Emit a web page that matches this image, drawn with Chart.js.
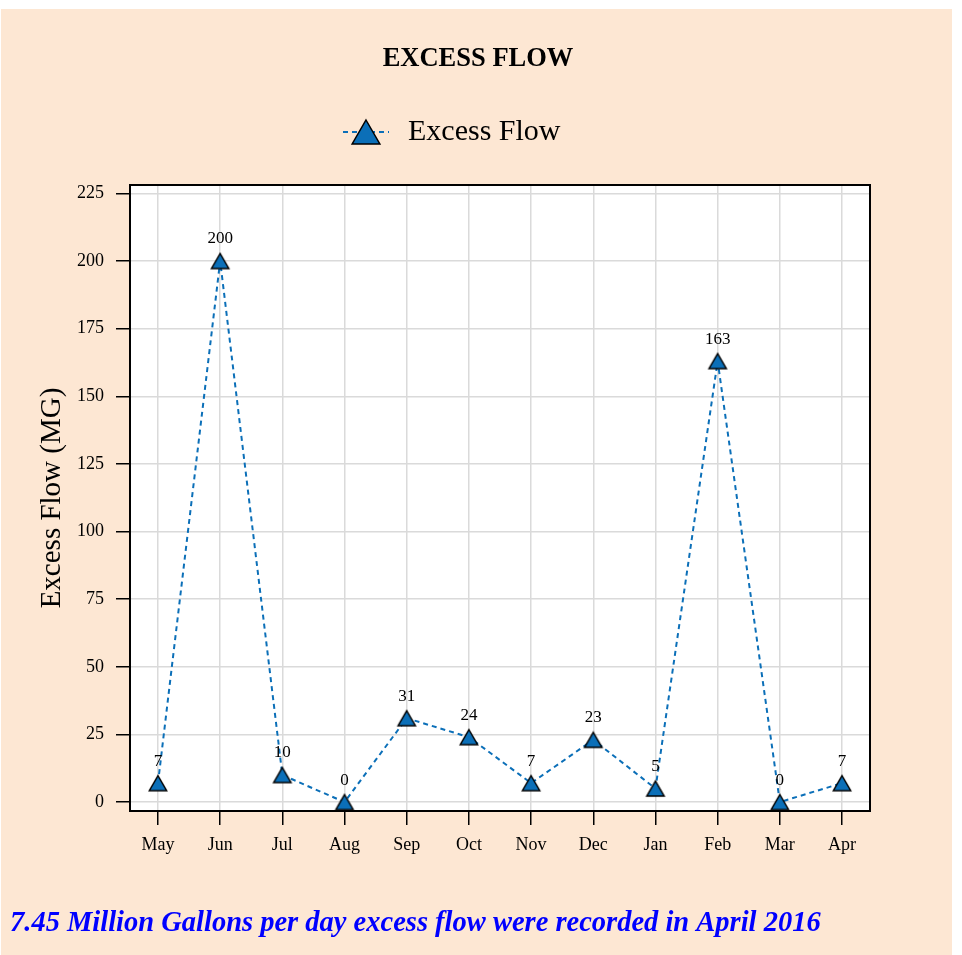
<!DOCTYPE html>
<html>
<head>
<meta charset="utf-8">
<script src="https://cdn.jsdelivr.net/npm/chart.js@4"></script>
<style>
  html, body { margin: 0; padding: 0; background: #ffffff; }
  #frame {
    position: absolute; left: 1px; top: 9px;
    width: 951px; height: 946px;
    background: #FDE7D3;
  }
  #frame canvas { display: block; }
</style>
</head>
<body>
<div id="frame"><canvas id="chart" width="951" height="946"></canvas></div>
<script>
// Monthly excess flow, May through April
const months = ['May', 'Jun', 'Jul', 'Aug', 'Sep', 'Oct', 'Nov', 'Dec', 'Jan', 'Feb', 'Mar', 'Apr'];
const excessFlow = [7, 200, 10, 0, 31, 24, 7, 23, 5, 163, 0, 7];
const yTickValues = [0, 25, 50, 75, 100, 125, 150, 175, 200, 225];

const titleText = 'EXCESS FLOW';
const seriesName = 'Excess Flow';
const yAxisTitle = 'Excess Flow (MG)';
const footnote = '7.45 Million Gallons per day excess flow were recorded in April 2016';

const SERIF = '"Liberation Serif", "Times New Roman", Times, serif';
const BLUE = '#0B6FB8';

const points = excessFlow.map((v, i) => ({ x: i, y: v }));

// Up-pointing triangle whose bounding box is centred on the data point
function triangleSprite(r) {
  const w = Math.ceil(1.732 * r) + 4;
  const h = Math.ceil(1.5 * r) + 4;
  const c = document.createElement('canvas');
  c.width = w; c.height = h;
  const g = c.getContext('2d');
  const cx = w / 2, top = (h - 1.5 * r) / 2;
  g.beginPath();
  g.moveTo(cx, top);
  g.lineTo(cx + 0.866 * r, top + 1.5 * r);
  g.lineTo(cx - 0.866 * r, top + 1.5 * r);
  g.closePath();
  g.fillStyle = BLUE;
  g.fill();
  g.strokeStyle = '#000000';
  g.lineWidth = 1.5;
  g.lineJoin = 'miter';
  g.stroke();
  return c;
}
const marker = triangleSprite(10);
const legendMarker = triangleSprite(16);

// White plotting panel, black frame, and the page texts
const decorations = {
  id: 'decorations',
  beforeDraw(chart) {
    const { ctx, chartArea: a } = chart;
    ctx.save();
    ctx.fillStyle = '#ffffff';
    ctx.fillRect(a.left, a.top, a.right - a.left, a.bottom - a.top);
    ctx.restore();
  },
  beforeDatasetsDraw(chart) {
    const { ctx, chartArea: a } = chart;
    ctx.save();
    ctx.strokeStyle = '#000000';
    ctx.lineWidth = 2;
    ctx.strokeRect(a.left, a.top, a.right - a.left, a.bottom - a.top);
    ctx.restore();
  },
  afterDatasetsDraw(chart) {
    const { ctx } = chart;
    const meta = chart.getDatasetMeta(0);
    ctx.save();
    // value labels above the markers
    ctx.fillStyle = '#000000';
    ctx.font = '17px ' + SERIF;
    ctx.textAlign = 'center';
    ctx.textBaseline = 'middle';
    meta.data.forEach((el, i) => {
      ctx.fillText(String(excessFlow[i]), el.x, el.y - 22);
    });

    // title
    ctx.font = 'bold 26.5px ' + SERIF;
    ctx.fillText(titleText, 477, 50);

    // legend: dashed line with triangle marker, then the series name
    const lx = 365, ly = 123;
    ctx.strokeStyle = BLUE;
    ctx.lineWidth = 2;
    ctx.setLineDash([5, 4]);
    ctx.beginPath();
    ctx.moveTo(lx - 23, ly);
    ctx.lineTo(lx + 23, ly);
    ctx.stroke();
    ctx.setLineDash([]);
    ctx.drawImage(legendMarker, lx - legendMarker.width / 2, ly - legendMarker.height / 2);
    ctx.fillStyle = '#000000';
    ctx.font = '30px ' + SERIF;
    ctx.textAlign = 'left';
    ctx.fillText(seriesName, 407, 123);

    // footnote
    ctx.fillStyle = '#0000FF';
    ctx.font = 'italic bold 28.5px ' + SERIF;
    ctx.fillText(footnote, 9, 915);
    ctx.restore();
  }
};

new Chart(document.getElementById('chart'), {
  type: 'line',
  data: {
    datasets: [{
      label: seriesName,
      data: points,
      borderColor: BLUE,
      borderWidth: 2,
      borderDash: [5, 4],
      backgroundColor: BLUE,
      pointStyle: marker,
      pointRadius: 10,
      pointHoverRadius: 10,
      tension: 0,
      fill: false
    }]
  },
  options: {
    responsive: false,
    animation: false,
    events: [],
    layout: { padding: { left: 0, right: 82, top: 176, bottom: 84 } },
    plugins: {
      legend: { display: false },
      title: { display: false },
      tooltip: { enabled: false }
    },
    scales: {
      x: {
        type: 'linear',
        min: -0.45,
        max: 11.45,
        afterBuildTicks(scale) {
          scale.ticks = months.map((m, i) => ({ value: i }));
        },
        afterFit(scale) { scale.height = 60; },
        border: { display: false },
        grid: {
          color: '#DADADA',
          lineWidth: 1.5,
          tickColor: '#000000',
          tickWidth: 1.5,
          tickLength: 14
        },
        ticks: {
          autoSkip: false,
          maxRotation: 0,
          padding: 9,
          color: '#000000',
          font: { family: SERIF, size: 18 },
          callback: (v) => months[v] ?? ''
        }
      },
      y: {
        type: 'linear',
        min: -3.3,
        max: 228.1,
        afterBuildTicks(scale) {
          scale.ticks = yTickValues.map(v => ({ value: v }));
        },
        afterFit(scale) { scale.width = 129; },
        border: { display: false },
        grid: {
          color: '#DADADA',
          lineWidth: 1.5,
          tickColor: '#000000',
          tickWidth: 1.5,
          tickLength: 14
        },
        ticks: {
          padding: 12,
          color: '#000000',
          font: { family: SERIF, size: 18 }
        },
        title: {
          display: true,
          text: yAxisTitle,
          color: '#000000',
          font: { family: SERIF, size: 29 },
          padding: { top: 34, bottom: 0 }
        }
      }
    }
  },
  plugins: [decorations]
});
</script>
</body>
</html>
